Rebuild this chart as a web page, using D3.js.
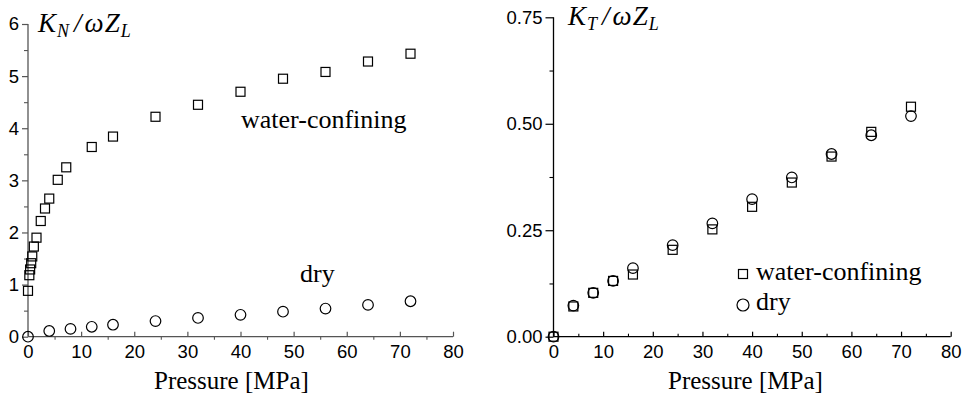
<!DOCTYPE html>
<html><head><meta charset="utf-8">
<script src="https://cdn.jsdelivr.net/npm/d3@7"></script>
<style>body{margin:0;background:#fff}svg{display:block}</style>
</head><body>
<svg id="c" width="962" height="401"></svg>
<script>
// ---- data ----
const pressureN = [0,0.25,0.4,0.6,0.8,1.1,1.6,2.4,3.2,4,5.6,7.2,12,16,24,32,40,48,56,64,72];
const waterN    = [0.88,1.18,1.29,1.41,1.54,1.73,1.90,2.22,2.46,2.65,3.01,3.25,3.64,3.84,4.22,4.45,4.70,4.95,5.08,5.28,5.43];
const pressureDry = [0,4,8,12,16,24,32,40,48,56,64,72];
const dryN      = [0,0.11,0.15,0.19,0.23,0.30,0.36,0.42,0.48,0.54,0.61,0.68];
const pressureT = [0,4,8,12,16,24,32,40,48,56,64,72];
const waterT    = [0,0.071,0.103,0.131,0.146,0.204,0.252,0.305,0.362,0.423,0.481,0.540];
const dryT      = [0,0.073,0.103,0.131,0.161,0.215,0.266,0.323,0.374,0.429,0.473,0.518];
const xTicks = [0,10,20,30,40,50,60,70,80];
const yTicksN = [0,1,2,3,4,5,6];
const yTicksT = [0,0.25,0.5,0.75];

const svg = d3.select("#c");
const SANS = "'Liberation Sans', Arial, sans-serif";
const SERIF = "'Liberation Serif', 'Times New Roman', serif";

function panel(o){
  const x = d3.scaleLinear().domain([0,80]).range(o.xr);
  const y = d3.scaleLinear().domain(o.yd).range(o.yr);
  const g = svg.append("g");
  const col = o.axisColor;
  g.append("line").attr("x1",x(0)).attr("x2",x(80)).attr("y1",y(0)).attr("y2",y(0)).attr("stroke",col).attr("stroke-width",1.3);
  g.append("line").attr("x1",x(0)).attr("x2",x(0)).attr("y1",y(0)).attr("y2",y(o.yd[1])).attr("stroke",col).attr("stroke-width",1.3);
  const xa = d3.axisBottom(x).tickValues(xTicks).tickSizeInner(-5).tickSizeOuter(0).tickPadding(8);
  const gx = g.append("g").attr("transform",`translate(0,${y(0)})`).call(xa);
  gx.select(".domain").remove();
  gx.selectAll(".tick line").attr("stroke",col).attr("stroke-width",1.2);
  gx.selectAll(".tick text").attr("font-family",SANS).attr("font-size",18.5).attr("fill","#000");
  const xm = d3.axisBottom(x).tickValues(d3.range(5,80,10)).tickSize(o.minorX).tickFormat("");
  const gxm = g.append("g").attr("transform",`translate(0,${y(0)})`).call(xm);
  gxm.select(".domain").remove();
  gxm.selectAll(".tick line").attr("stroke",col).attr("stroke-width",1.1);
  const ya = d3.axisLeft(y).tickValues(o.yTicks).tickSizeInner(o.ytick).tickSizeOuter(0).tickPadding(3).tickFormat(o.yfmt);
  const gy = g.append("g").attr("transform",`translate(${x(0)},0)`).call(ya);
  gy.select(".domain").remove();
  gy.selectAll(".tick line").attr("stroke",col).attr("stroke-width",1.2);
  gy.selectAll(".tick text").attr("font-family",SANS).attr("font-size",18.5).attr("fill","#000");
  const ym = d3.axisLeft(y).tickValues(o.yMinor).tickSize(4).tickFormat("");
  const gym = g.append("g").attr("transform",`translate(${x(0)},0)`).call(ym);
  gym.select(".domain").remove();
  gym.selectAll(".tick line").attr("stroke",col).attr("stroke-width",1.1);
  g.append("text").attr("x",o.xtitle).attr("y",389).attr("font-family",SERIF).attr("font-size",25).text("Pressure [MPa]");
  const t = g.append("text").attr("x",o.tx).attr("y",o.ty).attr("font-family",SERIF).attr("font-size",27).attr("font-style","italic");
  t.append("tspan").text("K");
  t.append("tspan").attr("font-size",18).attr("dy",5).attr("dx",1).text(o.sub);
  t.append("tspan").attr("dy",-5).attr("dx",5).text("/");
  t.append("tspan").attr("dx",3).text("ω");
  t.append("tspan").attr("dx",1).text("Z");
  t.append("tspan").attr("font-size",18).attr("dy",5).attr("dx",1).text("L");
  return {x,y,g};
}

function squares(p, xs, ys, s){
  p.g.append("g").selectAll("rect").data(xs.map((d,i)=>[d,ys[i]])).join("rect")
    .attr("x",d=>p.x(d[0])-s/2).attr("y",d=>p.y(d[1])-s/2).attr("width",s).attr("height",s)
    .attr("fill","none").attr("stroke","#000").attr("stroke-width",1.2);
}
function circles(p, xs, ys, r){
  p.g.append("g").selectAll("circle").data(xs.map((d,i)=>[d,ys[i]])).join("circle")
    .attr("cx",d=>p.x(d[0])).attr("cy",d=>p.y(d[1])).attr("r",r)
    .attr("fill","none").attr("stroke","#000").attr("stroke-width",1.2);
}

const L = panel({xr:[28,453], yd:[0,6], yr:[336.7,24], yTicks:yTicksN, yMinor:d3.range(0.5,6,1),
  yfmt:d3.format("d"), ytick:6, minorX:3, axisColor:"#555", xtitle:154, tx:38, ty:32, sub:"N"});
squares(L, pressureN, waterN, 9);
circles(L, pressureDry, dryN, 5.3);
L.g.append("text").attr("x",241).attr("y",128).attr("font-family",SERIF).attr("font-size",26).text("water-confining");
L.g.append("text").attr("x",300).attr("y",282).attr("font-family",SERIF).attr("font-size",26).text("dry");

const R = panel({xr:[553.5,950.7], yd:[0,0.75], yr:[336.7,17.3], yTicks:yTicksT, yMinor:d3.range(0.125,0.75,0.25),
  yfmt:d3.format(".2f"), ytick:8, minorX:-3, axisColor:"#000", xtitle:668, tx:568, ty:25, sub:"T"});
squares(R, pressureT, waterT, 9);
circles(R, pressureT, dryT, 5.3);
R.g.append("rect").attr("x",743-4.5).attr("y",274-4.5).attr("width",9).attr("height",9).attr("fill","none").attr("stroke","#000").attr("stroke-width",1.2);
R.g.append("circle").attr("cx",743).attr("cy",305).attr("r",6).attr("fill","none").attr("stroke","#000").attr("stroke-width",1.2);
R.g.append("text").attr("x",756).attr("y",280).attr("font-family",SERIF).attr("font-size",26).text("water-confining");
R.g.append("text").attr("x",756).attr("y",310).attr("font-family",SERIF).attr("font-size",26).text("dry");
</script>
</body></html>
